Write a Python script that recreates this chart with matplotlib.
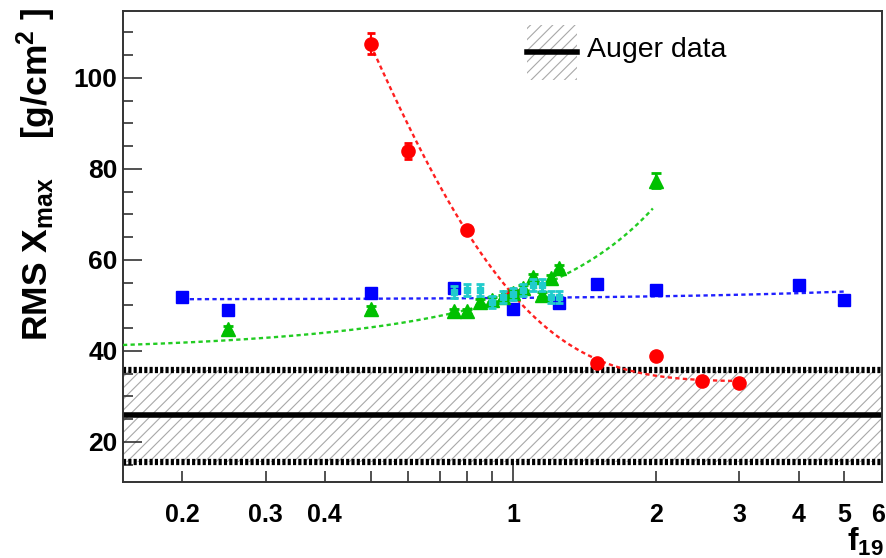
import numpy as np
import matplotlib
matplotlib.use("Agg")
import matplotlib.pyplot as plt
import matplotlib.transforms as mtransforms
from matplotlib.patches import Rectangle
from matplotlib.lines import Line2D

plt.rcParams['font.family'] = ['Liberation Sans', 'DejaVu Sans']
plt.rcParams['mathtext.fontset'] = 'custom'
plt.rcParams['mathtext.rm'] = 'Liberation Sans'
plt.rcParams['mathtext.bf'] = 'Liberation Sans:bold'
plt.rcParams['mathtext.it'] = 'Liberation Sans:italic'
plt.rcParams['hatch.linewidth'] = 0.8

# ---- data ----
red_x = [0.5, 0.6, 0.8, 1.0, 1.5, 2.0, 2.5, 3.0]
red_y = [107.5, 84.0, 66.6, 52.6, 37.3, 38.9, 33.3, 33.0]
red_err = [2.3, 1.8, 0.8, 0.8, 0.8, 0.8, 0.6, 0.6]

blue_x = [0.2, 0.25, 0.5, 0.75, 1.0, 1.25, 1.5, 2.0, 4.0, 5.0]
blue_y = [51.8, 48.9, 52.8, 53.8, 49.2, 50.6, 54.8, 53.4, 54.4, 51.1]

green_x = [0.25, 0.5, 0.75, 0.8, 0.85, 0.9, 0.95, 1.0, 1.05, 1.1, 1.15, 1.2, 1.25, 2.0]
green_y = [44.8, 49.2, 48.7, 48.7, 50.8, 51.3, 51.8, 52.8, 53.8, 56.2, 52.4, 56.0, 58.3, 77.4]
green_err = [0.6, 0.6, 0.6, 0.6, 0.6, 0.6, 0.6, 0.6, 0.6, 0.6, 0.6, 0.6, 0.6, 1.7]

cyan_x = [0.75, 0.8, 0.85, 0.9, 0.95, 1.0, 1.05, 1.1, 1.15, 1.2, 1.25]
cyan_y = [53.0, 53.3, 53.4, 50.8, 51.8, 52.6, 53.3, 54.5, 54.5, 51.8, 51.8]
cyan_err = [1.3, 1.3, 1.3, 1.3, 1.3, 1.3, 1.3, 1.3, 1.3, 1.3, 1.3]

# fit curves (parameters)
red_fit = [33.3, 288.0, 2.72]      # a + b*exp(-c x), x in [0.5, 3]
green_fit = [21.1, 18.75, 0.5]     # a + b*exp(c x), x in [0.15, 1.97]
blue_fit = [51.3, 0.35]            # a + b*x, x in [0.2, 5]

auger_mean = 26.0
auger_low = 15.7
auger_high = 35.9

xtick_vals = [0.2, 0.3, 0.4, 0.5, 0.6, 0.7, 0.8, 0.9, 2, 3, 4, 5, 6]
xtick_labels = ['0.2', '0.3', '0.4', '', '', '', '', '', '2', '3', '4', '5', '6']

# ---- figure ----
W, H = 887, 558
fig = plt.figure(figsize=(W / 100, H / 100), dpi=100)
L, R, T, B = 123, 882, 11, 482
ax = fig.add_axes([L / W, 1 - B / H, (R - L) / W, (B - T) / H])
ax.set_xscale('log')
ax.set_xlim(0.15, 6.0)
ax.set_ylim(11.2, 114.7)

# Auger band
ax.axhspan(auger_low, auger_high, facecolor='none', edgecolor='#a8a8a8',
           hatch='///', linewidth=0, zorder=1)
for yv in (auger_low, auger_high):
    ax.axhline(yv, color='black', lw=4.5, linestyle=(0, (0.5, 0.35)), zorder=2)
ax.axhline(auger_mean, color='black', lw=4.0, zorder=2)

dash = (0, (1.8, 1.4))
# fits
xr = np.linspace(0.5, 3.0, 300)
ax.plot(xr, red_fit[0] + red_fit[1] * np.exp(-red_fit[2] * xr), color='#ff2020', lw=1.7, ls=dash, zorder=3)
xg = np.linspace(0.15, 1.97, 300)
ax.plot(xg, green_fit[0] + green_fit[1] * np.exp(green_fit[2] * xg), color='#22cc22', lw=1.7, ls=dash, zorder=3)
xb = np.linspace(0.2, 5.0, 300)
ax.plot(xb, blue_fit[0] + blue_fit[1] * xb, color='#2020ff', lw=1.7, ls=dash, zorder=3)

# points
ax.errorbar(blue_x, blue_y, fmt='s', color='#0000ff', ms=8.5, mec='#0000ff', zorder=5)
ax.errorbar(green_x, green_y, yerr=green_err, fmt='^', color='#00c000', ms=9.5,
            capsize=3.5, elinewidth=1.5, capthick=2, zorder=6)
ax.errorbar(cyan_x, cyan_y, yerr=cyan_err, fmt='s', color='#20cccc', ms=4,
            capsize=3.2, elinewidth=2, capthick=2, zorder=7)
ax.errorbar(red_x, red_y, yerr=red_err, fmt='o', color='#ff0000', ms=9.5,
            capsize=3, elinewidth=1.5, capthick=2, zorder=4)

# axes style
for s in ax.spines.values():
    s.set_linewidth(1.4)
    s.set_color('#333333')
ax.set_xticks([1], labels=['1'])
ax.set_xticks(xtick_vals, labels=xtick_labels, minor=True)
ax.set_yticks([20, 40, 60, 80, 100])
ax.set_yticks(np.arange(15, 115, 5), minor=True)
ax.tick_params(which='both', direction='in', top=False, right=False, colors='#333333',
               labelcolor='black', width=1.2)
ax.tick_params(axis='x', which='major', length=14, pad=15)
ax.tick_params(axis='x', which='minor', length=8, pad=15)
ax.tick_params(axis='y', which='major', length=14, pad=4)
ax.tick_params(axis='y', which='minor', length=7.5)
for lab in ax.get_xticklabels(which='both'):
    lab.set_fontsize(18)
    lab.set_fontweight('bold')
for lab in ax.get_yticklabels():
    lab.set_fontsize(19)
    lab.set_fontweight('bold')

# nudge the last x label ("6") so it stays inside the canvas
shift = mtransforms.ScaledTranslation(-4 / 100, 0, fig.dpi_scale_trans)
for tk in ax.xaxis.get_minor_ticks():
    if tk.label1.get_text() == '6':
        tk.label1.set_transform(tk.label1.get_transform() + shift)

# axis titles
fig.text(884 / W, 1 - 558 / H, r'$\mathbf{f}_{\mathbf{19}}$', fontsize=23, ha='right', va='bottom')
fig.text(36 / W, 1 - 8 / H, r'$\mathbf{RMS\ X}_{\mathbf{max}}\ \ \ \ \mathbf{[g/cm}^{\mathbf{2}}\mathbf{\ ]}$',
         fontsize=25.5, rotation=90, ha='center', va='top')

# legend
lx0, lx1, ly0, ly1 = 527, 577, 25, 80
fig.patches.append(Rectangle((lx0 / W, 1 - ly1 / H), (lx1 - lx0) / W, (ly1 - ly0) / H,
                             transform=fig.transFigure, facecolor='none', edgecolor='#a8a8a8',
                             hatch='///', linewidth=0))
fig.lines.append(Line2D([lx0 / W, lx1 / W], [1 - 52 / H, 1 - 52 / H], transform=fig.transFigure,
                        color='black', lw=4.0))
fig.text(587 / W, 1 - 50 / H, 'Auger data', fontsize=20.5, ha='left', va='center')

fig.savefig('out.png', dpi=100)
